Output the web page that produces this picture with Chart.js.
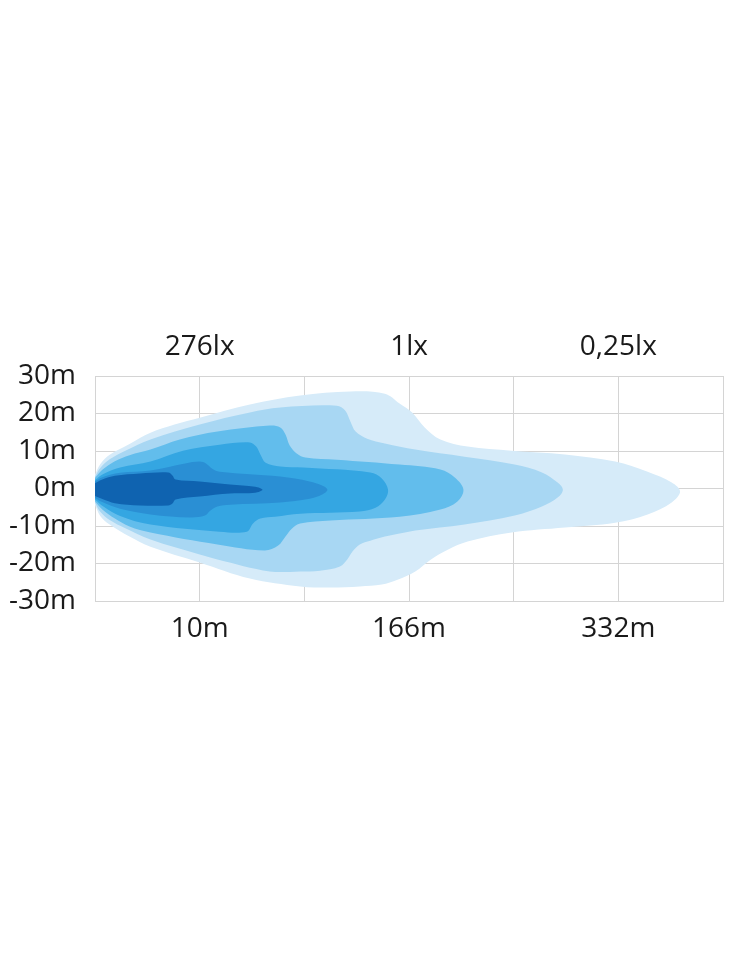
<!DOCTYPE html>
<html>
<head>
<meta charset="utf-8">
<script src="https://cdn.jsdelivr.net/npm/chart.js@4"></script>
<style>
  html, body { margin: 0; padding: 0; background: #fff; }
  #wrap { width: 730px; height: 973px; position: relative; }
</style>
</head>
<body>
<div id="wrap"><canvas id="beam"></canvas></div>
<script>
// x = grid column (0..6), y = metres left/right of centre line
const yTicks = [-30, -20, -10, 0, 10, 20, 30];
const distLabels = ["", "10m", "", "166m", "", "332m", ""];
const luxLabels = ["", "276lx", "", "1lx", "", "0,25lx", ""];

// outline of each lux zone, top edge left->right then bottom edge right->left
const zone1 = [
  [0, 3.7], [0.05, 6.5], [0.14, 9.0], [0.33, 11.9], [0.53, 14.9], [0.76, 17.1],
  [1.00, 18.9], [1.48, 22.4], [1.96, 24.8], [2.44, 25.9], [2.77, 25.3], [2.91, 22.7],
  [3.03, 20.3], [3.15, 16.3], [3.30, 13.1], [3.56, 11.2], [3.98, 10.1], [4.49, 9.1],
  [4.97, 7.2], [5.28, 4.5], [5.51, 1.6], [5.59, -0.8],
  [5.51, -3.7], [5.28, -6.9], [4.97, -9.1], [4.49, -10.4], [3.98, -11.7], [3.56, -14.1],
  [3.37, -16.3], [3.21, -18.9], [3.06, -22.1], [2.89, -24.3], [2.74, -25.6], [2.53, -26.1],
  [2.25, -26.4], [1.96, -26.1], [1.48, -24.0], [1.00, -19.7], [0.53, -15.5], [0.33, -12.8],
  [0.14, -9.6], [0.05, -7.3], [0, -4.3]
];
const zone2 = [
  [0, 3.2], [0.05, 5.5], [0.14, 7.8], [0.29, 10.1], [0.53, 13.1], [1.00, 17.1], [1.48, 20.3],
  [1.77, 21.6], [2.31, 22.1], [2.39, 20.8], [2.44, 17.9], [2.49, 15.2], [2.60, 13.3],
  [2.77, 12.0], [3.06, 10.4], [3.53, 8.5], [4.01, 6.4], [4.27, 4.3], [4.42, 1.6], [4.47, -0.3],
  [4.42, -2.4], [4.27, -4.8], [4.01, -7.2], [3.53, -9.6], [3.06, -11.2], [2.91, -12.0],
  [2.77, -12.8], [2.63, -13.9], [2.53, -14.9], [2.46, -16.8], [2.41, -18.9], [2.34, -20.8],
  [2.15, -21.9], [1.96, -22.1], [1.67, -22.1], [1.17, -18.9], [1.00, -17.6], [0.53, -13.6],
  [0.29, -10.6], [0.14, -8.4], [0.05, -6.2], [0, -3.8]
];
const zone3 = [
  [0, 2.8], [0.07, 5.0], [0.19, 7.3], [0.33, 8.9], [0.53, 10.4], [0.81, 13.1], [1.17, 15.2],
  [1.67, 16.8], [1.77, 16.3], [1.82, 14.4], [1.86, 11.5], [1.93, 9.3], [2.01, 8.3],
  [2.31, 7.7], [2.91, 6.4], [3.30, 5.1], [3.44, 2.9], [3.52, -0.3],
  [3.46, -3.5], [3.30, -5.6], [2.91, -7.5], [2.25, -8.5], [1.96, -9.3], [1.88, -10.7],
  [1.82, -12.8], [1.75, -15.2], [1.62, -16.5], [1.17, -14.9], [0.53, -11.7], [0.33, -10.1],
  [0.19, -8.0], [0.07, -5.6], [0, -3.4]
];
const zone4 = [
  [0, 2.3], [0.08, 3.9], [0.24, 5.6], [0.53, 7.2], [0.84, 10.1], [1.19, 11.7], [1.48, 12.3],
  [1.54, 11.2], [1.58, 9.1], [1.63, 6.9], [1.77, 5.9], [1.99, 5.6], [2.63, 4.3], [2.74, 2.7],
  [2.80, -0.3],
  [2.77, -2.9], [2.68, -5.1], [2.53, -6.1], [1.96, -6.7], [1.72, -7.5], [1.58, -8.0],
  [1.51, -9.3], [1.45, -11.5], [1.19, -11.5], [0.53, -9.6], [0.24, -7.3], [0.08, -4.8], [0, -2.9]
];
const zone5 = [
  [0, 1.9], [0.07, 3.0], [0.24, 4.2], [0.53, 4.8], [0.86, 6.7], [1.00, 7.2], [1.06, 6.7],
  [1.12, 5.3], [1.19, 4.5], [1.77, 3.2], [2.05, 1.9], [2.17, 0.8], [2.22, -0.3],
  [2.17, -1.6], [2.05, -2.7], [1.77, -3.7], [1.29, -4.3], [1.17, -4.8], [1.10, -5.9],
  [1.05, -7.2], [0.91, -7.7], [0.53, -6.9], [0.24, -5.4], [0.07, -3.6], [0, -2.5]
];
const zone6 = [
  [0, 1.4], [0.07, 2.4], [0.19, 3.4], [0.43, 4.0], [0.70, 4.3], [0.74, 3.5], [0.77, 2.4],
  [1.00, 1.9], [1.29, 1.1], [1.53, 0.5], [1.60, -0.3],
  [1.53, -1.1], [1.29, -1.3], [1.00, -2.1], [0.77, -2.9], [0.74, -4.0], [0.70, -4.5],
  [0.43, -4.5], [0.19, -3.9], [0.07, -2.8], [0, -2.0]
];

const zoneColors = ["#0f63b0", "#2a8fd4", "#34a6e2", "#62bdec", "#a8d7f3", "#d6ebf9"];
const gridColor = "#d4d4d4";
const fontFamily = "'Open Sans', sans-serif";
const labelFont = { family: fontFamily, size: 28 };

function toPoints(arr) {
  return arr.map(p => ({ x: p[0], y: p[1] }));
}

// innermost first, so it is drawn on top
const zones = [zone6, zone5, zone4, zone3, zone2, zone1];
const datasets = zones.map((z, i) => ({
  data: toPoints(z),
  showLine: true,
  fill: "shape",
  backgroundColor: zoneColors[i],
  borderColor: zoneColors[i],
  borderWidth: 0,
  pointRadius: 0,
  tension: 0.35
}));

new Chart(document.getElementById("beam"), {
  type: "scatter",
  data: { datasets },
  options: {
    responsive: true,
    maintainAspectRatio: false,
    animation: false,
    events: [],
    layout: { padding: { top: 320, right: 7, bottom: 312, left: 0 } },
    plugins: { legend: { display: false }, tooltip: { enabled: false } },
    scales: {
      x: {
        type: "linear",
        position: "bottom",
        min: 0,
        max: 6,
        afterFit: s => { s.height = 60; s.paddingLeft = 0; s.paddingRight = 0; },
        afterBuildTicks: s => { s.ticks = distLabels.map((l, i) => ({ value: i })); },
        grid: { color: gridColor, drawTicks: false },
        border: { color: gridColor },
        ticks: {
          autoSkip: false,
          maxRotation: 0,
          padding: 11,
          color: "#1a1a1a",
          font: labelFont,
          callback: v => distLabels[v]
        }
      },
      x2: {
        type: "linear",
        position: "top",
        min: 0,
        max: 6,
        afterFit: s => { s.height = 56; s.paddingLeft = 0; s.paddingRight = 0; },
        afterBuildTicks: s => { s.ticks = luxLabels.map((l, i) => ({ value: i })); },
        grid: { display: false, drawTicks: false },
        border: { color: gridColor },
        ticks: {
          autoSkip: false,
          maxRotation: 0,
          padding: 12,
          color: "#1a1a1a",
          font: labelFont,
          callback: v => luxLabels[v]
        }
      },
      y: {
        min: -30,
        max: 30,
        afterFit: s => { s.width = 95; },
        afterBuildTicks: s => { s.ticks = yTicks.map(v => ({ value: v })); },
        grid: { color: gridColor, drawTicks: false },
        border: { color: gridColor },
        ticks: {
          padding: 19,
          color: "#1a1a1a",
          font: labelFont,
          callback: v => v + "m"
        }
      }
    }
  }
});
</script>
</body>
</html>
